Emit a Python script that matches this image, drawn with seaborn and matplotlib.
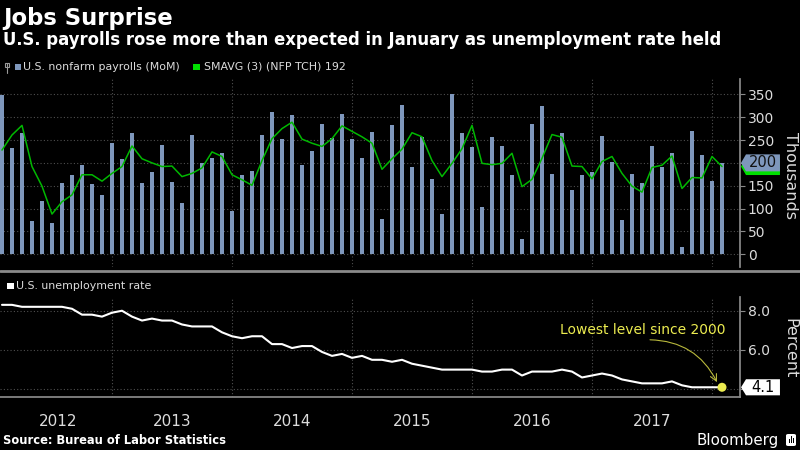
import matplotlib
matplotlib.use("Agg")
import matplotlib.pyplot as plt                      # noqa: E402
from matplotlib.lines import Line2D                  # noqa: E402
from matplotlib.patches import Polygon, Rectangle, FancyBboxPatch  # noqa: E402
import numpy as np                                   # noqa: E402
import pandas as pd                                  # noqa: E402
import seaborn as sns                                # noqa: E402

# ---- data (Jan-2012 .. Jan-2018) ------------------------------------------
months = pd.period_range("2012-01", "2018-01", freq="M")

payrolls = [348, 233, 265, 72, 117, 68, 157, 173, 195, 154, 130, 243,
            208, 265, 157, 179, 240, 158, 112, 260, 200, 211, 221, 94,
            174, 182, 260, 311, 252, 305, 196, 227, 284, 254, 307, 252,
            211, 268, 78, 282, 326, 192, 256, 164, 88, 351, 265, 234,
            103, 257, 236, 174, 34, 285, 324, 176, 265, 141, 173, 180,
            259, 201, 74, 176, 155, 238, 190, 221, 15, 270, 217, 160,
            200]

smavg3 = [228, 261, 282, 192, 149, 88, 115, 130, 174, 174, 160, 177,
          192, 237, 209, 200, 192, 193, 170, 177, 189, 224, 214, 174,
          163, 151, 205, 253, 275, 289, 252, 243, 236, 253, 281, 269,
          257, 243, 186, 209, 230, 266, 257, 205, 170, 199, 231, 282,
          199, 196, 199, 221, 148, 164, 210, 262, 256, 193, 192, 165,
          203, 214, 177, 149, 136, 190, 195, 215, 144, 168, 167, 214,
          192]

unemployment = [8.3, 8.3, 8.2, 8.2, 8.2, 8.2, 8.2, 8.1, 7.8, 7.8, 7.7, 7.9,
                8.0, 7.7, 7.5, 7.6, 7.5, 7.5, 7.3, 7.2, 7.2, 7.2, 6.9, 6.7,
                6.6, 6.7, 6.7, 6.3, 6.3, 6.1, 6.2, 6.2, 5.9, 5.7, 5.8, 5.6,
                5.7, 5.5, 5.5, 5.4, 5.5, 5.3, 5.2, 5.1, 5.0, 5.0, 5.0, 5.0,
                4.9, 4.9, 5.0, 5.0, 4.7, 4.9, 4.9, 4.9, 5.0, 4.9, 4.6, 4.7,
                4.8, 4.7, 4.5, 4.4, 4.3, 4.3, 4.3, 4.4, 4.2, 4.1, 4.1, 4.1,
                4.1]

year_labels = ["2012", "2013", "2014", "2015", "2016", "2017"]
nfp_ticks = [0, 50, 100, 150, 200, 250, 300, 350]
ur_ticks = [4.0, 6.0, 8.0]
last_nfp, last_avg, last_ur = payrolls[-1], smavg3[-1], unemployment[-1]

# ---- style ---------------------------------------------------------------
BAR = "#7e97bc"
GREEN = "#00b800"
LEG_GREEN = "#00e000"
GRID = "#4f4f4f"
AXIS = "#8a8a8a"
TXT = "#dcdcdc"
YELLOW = "#ecec50"

sns.set_theme(style="dark", rc={
    "figure.facecolor": "black", "axes.facecolor": "black",
    "savefig.facecolor": "black", "text.color": TXT,
    "axes.edgecolor": AXIS, "grid.color": GRID,
})
plt.rcParams["font.family"] = ["DejaVu Sans"]

df = pd.DataFrame({"x": np.arange(len(months)), "nfp": payrolls,
                   "avg": smavg3, "ur": unemployment})

W, H = 800, 450


def box(left, top, right, bottom):
    return [left / W, 1 - bottom / H, (right - left) / W, (bottom - top) / H]


fig = plt.figure(figsize=(8, 4.5), dpi=100)
ax1 = fig.add_axes(box(0, 79, 740, 267))
ax2 = fig.add_axes(box(0, 297, 740, 396.7))

# year boundaries sit on the December bar, quarter ticks on Mar/Jun/Sep
bounds = [i - 1 for i, m in enumerate(months) if m.month == 1 and i > 0]
quarters = [b - k for b in bounds for k in (3, 6, 9)]
XMIN, XMAX = -0.2, 73.8

# ---- top panel: payrolls -------------------------------------------------
sns.barplot(data=df, x="x", y="nfp", native_scale=True, color=BAR,
            saturation=1, width=0.33, linewidth=0, errorbar=None, ax=ax1)
sns.lineplot(data=df, x="x", y="avg", color=GREEN, lw=1.1, ax=ax1)

# ---- bottom panel: unemployment rate -------------------------------------
sns.lineplot(data=df, x="x", y="ur", color="white", lw=1.5, ax=ax2)
ax2.scatter([df["x"].iloc[-1]], [last_ur], s=42, color=YELLOW, zorder=6,
            clip_on=False, edgecolor="none")

for ax in (ax1, ax2):
    ax.set_xlim(XMIN, XMAX)
    ax.set_xticks(bounds)
    ax.set_xticks(quarters, minor=True)
    ax.grid(True, axis="both", which="major", ls=(0, (1, 2)), lw=0.8,
            color=GRID)
    ax.set_axisbelow(True)
    ax.yaxis.tick_right()
    ax.set_xlabel("")
    ax.set_ylabel("")
    for s in ("left", "top"):
        ax.spines[s].set_visible(False)
    ax.spines["right"].set_color(AXIS)
    ax.tick_params(axis="y", which="both", direction="out", length=3.5,
                   width=0.8, color=AXIS, labelcolor=TXT, labelsize=10,
                   pad=2, left=False, right=True)

# the last-value tags take the place of the tick label they sit on
ax1.set_ylim(-27.8, 383.5)
ax1.set_yticks(nfp_ticks)
ax1.set_yticklabels(["" if v == last_nfp else f"{v}" for v in nfp_ticks])
ax1.spines["bottom"].set_visible(False)
ax1.tick_params(axis="x", which="both", length=0, labelbottom=False)

ax2.set_ylim(3.62, 8.70)
ax2.set_yticks(ur_ticks)
ax2.set_yticklabels(["" if v == 4.0 else f"{v:.1f}" for v in ur_ticks])
ax2.spines["bottom"].set_color(AXIS)
ax2.tick_params(axis="x", which="major", direction="out", length=24,
                width=0.8, color=AXIS, labelbottom=False)
ax2.tick_params(axis="x", which="minor", direction="out", length=2.5,
                width=0.8, color=AXIS)

centers = [(XMIN + bounds[0]) / 2 + 0.2] + \
    [(a + b) / 2 for a, b in zip(bounds[:-1], bounds[1:])]
for c, lab in zip(centers, year_labels):
    ax2.text(c, -0.25, lab, transform=ax2.get_xaxis_transform(),
             ha="center", va="center", fontsize=11, color=TXT)

ax2.text(64.1, 7.02, "Lowest level since 2000", ha="center", va="center",
         fontsize=10, color=YELLOW)
ax2.annotate("", xy=(71.5, 4.36), xytext=(64.8, 6.52),
             arrowprops=dict(arrowstyle="->", color="#b8b83c", lw=0.8,
                             connectionstyle="arc3,rad=-0.3",
                             shrinkA=0, shrinkB=0))


# ---- last-value tags on the right axis ------------------------------------
def tag(ax, y, half_h, label, fc, tc, z):
    tr = ax.get_yaxis_transform()
    tip, left, right = 1.0014, 1.0081, 1.054
    ax.add_patch(Polygon([(tip, y), (left, y + half_h), (right, y + half_h),
                          (right, y - half_h), (left, y - half_h)],
                         closed=True, transform=tr, fc=fc, ec="none",
                         clip_on=False, zorder=z))
    if label:
        ax.text((left + right) / 2, y, label, transform=tr, ha="center",
                va="center", fontsize=10.5, color=tc, zorder=z + 1,
                clip_on=False)


tag(ax1, last_avg, 18.6, "", LEG_GREEN, "black", 5)
tag(ax1, last_nfp, 18.6, f"{last_nfp:.0f}", BAR, "#111111", 7)
tag(ax2, last_ur, 0.41, f"{last_ur:.1f}", "white", "black", 7)

fig.text(790 / W, 1 - 175 / H, "Thousands", rotation=270, ha="center",
         va="center", fontsize=11.5, color=TXT)
fig.text(790 / W, 1 - 348 / H, "Percent", rotation=270, ha="center",
         va="center", fontsize=11.5, color=TXT)

# ---- legends --------------------------------------------------------------
leg_y = 1 - 66.7 / H
fig.add_artist(Line2D([7 / W, 7 / W], [1 - 63 / H, 1 - 73 / H],
                      color="#9a9a9a", lw=0.8))
fig.add_artist(Rectangle((5 / W, 1 - 67 / H), 4 / W, 4 / H, fc="none",
                         ec="#9a9a9a", lw=0.8))
fig.add_artist(Rectangle((15 / W, leg_y - 3 / H), 6 / W, 6 / H, fc=BAR,
                         ec="none"))
fig.text(23 / W, leg_y, "U.S. nonfarm payrolls (MoM)", fontsize=7.9,
         va="center", color=TXT)
fig.add_artist(Rectangle((193 / W, leg_y - 3 / H), 7 / W, 6 / H,
                         fc=LEG_GREEN, ec="none"))
fig.text(204 / W, leg_y, f"SMAVG (3) (NFP TCH) {last_avg:.0f}", fontsize=7.9,
         va="center", color=TXT)

leg2_y = 1 - 286 / H
fig.add_artist(Rectangle((7 / W, leg2_y - 3.3 / H), 6.5 / W, 6.5 / H,
                         fc="white", ec="none"))
fig.text(16 / W, leg2_y, "U.S. unemployment rate", fontsize=7.9,
         va="center", color=TXT)

# separator between panels
fig.add_artist(Line2D([0, 1], [1 - 271 / H] * 2, color=AXIS, lw=2))

# ---- titles & footer -----------------------------------------------------
fig.text(3 / W, 1 - 25 / H, "Jobs Surprise", fontsize=16.4,
         fontweight="bold", color="white", va="baseline")
fig.text(3 / W, 1 - 45 / H,
         "U.S. payrolls rose more than expected in January as unemployment "
         "rate held", fontsize=11.9, fontweight="bold", color="white",
         va="baseline")
fig.text(3 / W, 1 - 441 / H, "Source: Bureau of Labor Statistics",
         fontsize=8.3, fontweight="bold", color="white", va="center")
fig.text(779 / W, 1 - 440 / H, "Bloomberg", fontsize=10.8,
         color="white", va="center", ha="right")
fig.add_artist(FancyBboxPatch((786 / W, 1 - 446 / H), 10 / W, 12 / H,
                              boxstyle="round,pad=0,rounding_size=0.003",
                              fc="white", ec="none"))
for dx, hh in zip((788.5, 790.5, 792.5), (4, 7, 5)):
    fig.add_artist(Rectangle((dx / W, 1 - 443 / H), 1.2 / W, hh / H,
                             fc="black", ec="none"))

fig.savefig("out.png", dpi=100, facecolor="black")
